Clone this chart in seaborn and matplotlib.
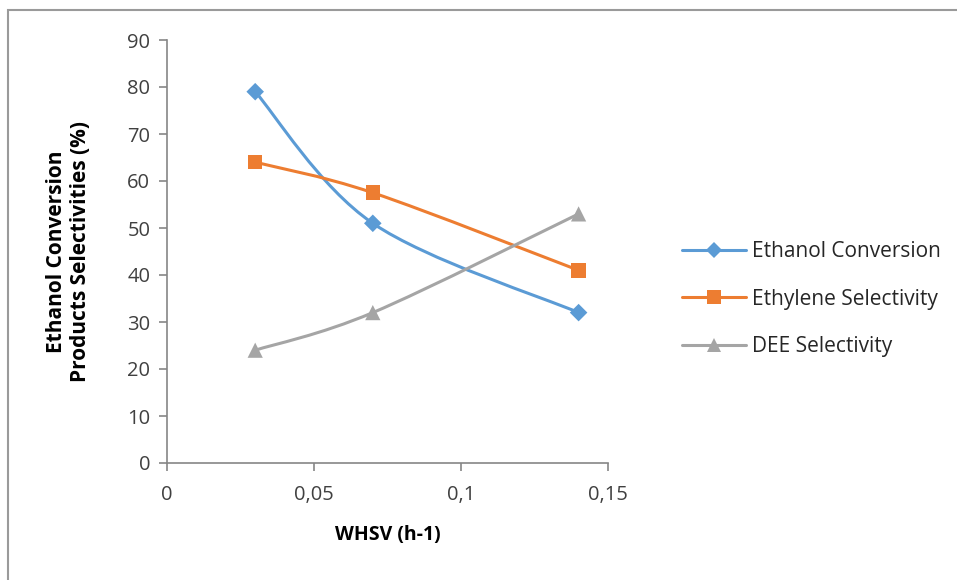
import numpy as np
import pandas as pd
import matplotlib
matplotlib.use("Agg")
import matplotlib.pyplot as plt
import seaborn as sns
from matplotlib.path import Path
from matplotlib.patches import PathPatch, Rectangle
from matplotlib.lines import Line2D
from matplotlib.ticker import FuncFormatter, MultipleLocator

# ---- data ----
whsv = [0.03, 0.07, 0.14]
ethanol_conversion = [79, 51, 32]
ethylene_selectivity = [64, 57.5, 41]
dee_selectivity = [24, 32, 53]
series_names = ["Ethanol Conversion", "Ethylene Selectivity", "DEE Selectivity"]

colors = ["#5B9BD5", "#ED7D31", "#A5A5A5"]
markers = ["D", "s", "^"]
msizes = [80, 110, 120]

sns.set_theme(style="white")
plt.rcParams['font.family'] = ['Open Sans', 'DejaVu Sans']

fig = plt.figure(figsize=(9.57, 5.8), dpi=100)
ax = fig.add_axes([167/957, 1-463/580, (608-167)/957, (463-40)/580])

rows = []
for name, vals in zip(series_names, [ethanol_conversion, ethylene_selectivity, dee_selectivity]):
    for x, y in zip(whsv, vals):
        rows.append({"WHSV": x, "value": y, "series": name})
df = pd.DataFrame(rows)


def smooth_path(xs, ys, t=1/6):
    # Excel-like smoothed line: cubic Bezier through points (Catmull-Rom control points)
    pts = np.column_stack([xs, ys]).astype(float)
    n = len(pts)
    verts = [pts[0]]
    codes = [Path.MOVETO]
    for i in range(n - 1):
        p0 = pts[i - 1] if i > 0 else pts[i]
        p1 = pts[i]
        p2 = pts[i + 1]
        p3 = pts[i + 2] if i + 2 < n else pts[i + 1]
        c1 = p1 + (p2 - p0) * t
        c2 = p2 - (p3 - p1) * t
        verts += [c1, c2, p2]
        codes += [Path.CURVE4] * 3
    return Path(verts, codes)


ax.set_xlim(0, 0.15)
ax.set_ylim(0, 90)

for name, c in zip(series_names, colors):
    sub = df[df.series == name]
    disp = ax.transData.transform(np.column_stack([sub.WHSV, sub.value]))
    p = smooth_path(disp[:, 0], disp[:, 1])
    p = Path(ax.transData.inverted().transform(p.vertices), p.codes)
    ax.add_patch(PathPatch(p, facecolor="none", edgecolor=c, lw=2.2, zorder=2))

sns.scatterplot(data=df, x="WHSV", y="value", hue="series", style="series",
                palette=dict(zip(series_names, colors)),
                markers=dict(zip(series_names, markers)),
                size="series", sizes=dict(zip(series_names, msizes)),
                edgecolor="none", linewidth=0, legend=False, ax=ax, zorder=3)

ax.set_xlim(0, 0.15)
ax.set_ylim(0, 90)
ax.xaxis.set_major_locator(MultipleLocator(0.05))
ax.yaxis.set_major_locator(MultipleLocator(10))
ax.xaxis.set_major_formatter(FuncFormatter(lambda v, p: ("%g" % round(v, 4)).replace(".", ",")))

for s in ["top", "right"]:
    ax.spines[s].set_visible(False)
for s in ["left", "bottom"]:
    ax.spines[s].set_color("#868686")
    ax.spines[s].set_linewidth(1.2)
ax.tick_params(axis="both", which="major", direction="out", length=6, width=1.2,
               color="#868686", labelsize=14.5, labelcolor="#404040",
               left=True, bottom=True)
ax.tick_params(axis="x", pad=10)
ax.tick_params(axis="y", pad=6)

ax.set_xlabel("WHSV (h-1)", fontsize=14, fontweight="bold", color="#000000", labelpad=14)
ax.set_ylabel("Ethanol Conversion\nProducts Selectivities (%)", fontsize=15,
              fontweight="bold", color="#000000", labelpad=26, linespacing=1.2)

handles = [Line2D([0], [0], color=c, lw=2.2, marker=m, markersize=ms, markeredgewidth=0)
           for c, m, ms in zip(colors, markers, [8, 10, 10])]
fig.legend(handles, series_names, loc="center left", bbox_to_anchor=(663/957, 1-299/580),
           frameon=False, fontsize=15, labelspacing=1.27, handlelength=3.1,
           handletextpad=0.25, labelcolor="#262626")

fig.patches.append(Rectangle((8/957, -0.05), 1.2, 1 - 10/580 + 0.05,
                             transform=fig.transFigure, fill=False,
                             edgecolor="#9a9a9a", lw=1.5, zorder=0))

fig.savefig("out.png", dpi=100)
